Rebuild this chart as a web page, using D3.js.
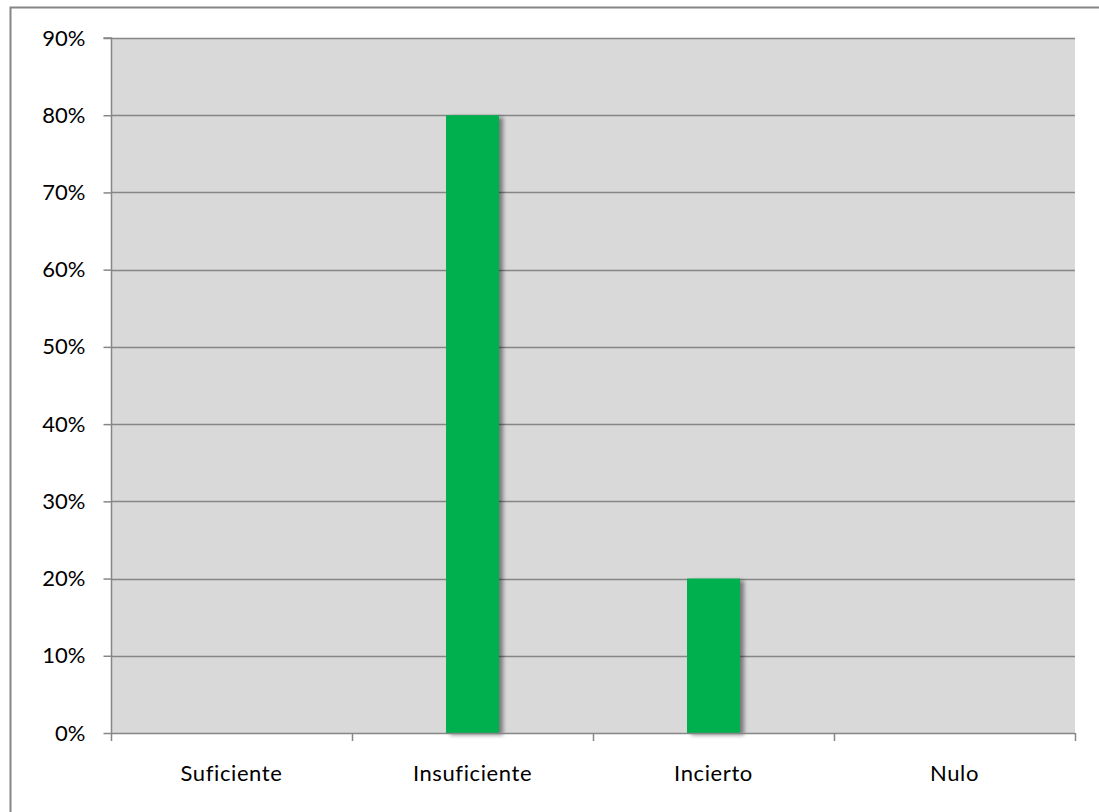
<!DOCTYPE html>
<html><head><meta charset="utf-8">
<script src="https://cdn.jsdelivr.net/npm/d3@7"></script>
<style>body{margin:0;background:#fff;} svg{display:block;} text{font-variant-ligatures:none;font-feature-settings:"liga" 0;}</style>
</head><body>
<svg id="c" width="1099" height="812"></svg>
<script>
const categories = ["Suficiente","Insuficiente","Incierto","Nulo"];
const values = [0, 0.80, 0.20, 0];
const yTicks = [0,0.1,0.2,0.3,0.4,0.5,0.6,0.7,0.8,0.9];

const svg = d3.select("#c");
const font = "Lato, 'Open Sans', sans-serif";
const fs = 22;
const m = {l:111, r:1075, t:38, b:733};

// outer chart border
svg.append("rect").attr("x",10.5).attr("y",7.5).attr("width",1100).attr("height",820)
  .attr("fill","#fff").attr("stroke","#868686").attr("stroke-width",2);

const x = d3.scaleBand().domain(categories).range([m.l,m.r]);
const y = d3.scaleLinear().domain([0,0.9]).range([m.b,m.t]);

svg.append("rect").attr("x",m.l).attr("y",m.t).attr("width",m.r-m.l).attr("height",m.b-m.t).attr("fill","#d9d9d9");

const defs = svg.append("defs");
const f = defs.append("filter").attr("id","sh").attr("x","-20%").attr("y","-5%").attr("width","150%").attr("height","115%");
f.append("feGaussianBlur").attr("in","SourceAlpha").attr("stdDeviation",2.2).attr("result","b");
f.append("feOffset").attr("in","b").attr("dx",4).attr("dy",2).attr("result","o");
f.append("feComponentTransfer").attr("in","o").attr("result","o2").append("feFuncA").attr("type","linear").attr("slope",0.45);
const mg = f.append("feMerge"); mg.append("feMergeNode").attr("in","o2"); mg.append("feMergeNode").attr("in","SourceGraphic");

// gridlines
svg.append("g").selectAll("line").data(yTicks.slice(1)).join("line")
  .attr("x1",m.l).attr("x2",m.r).attr("y1",d=>Math.round(y(d))+0.5).attr("y2",d=>Math.round(y(d))+0.5)
  .attr("stroke","#868686").attr("stroke-width",1.5);

// bars
const bw = 53;
const barData = categories.map((c,i)=>({c, v:values[i]})).filter(d=>d.v>0);
svg.append("g").selectAll("rect").data(barData).join("rect")
  .attr("x",d=>x(d.c)+x.bandwidth()/2-bw/2).attr("width",bw)
  .attr("y",d=>y(d.v)).attr("height",d=>y(0)-y(d.v))
  .attr("fill","#00b050").attr("filter","url(#sh)");

// y axis
const ya = svg.append("g").attr("transform",`translate(${m.l+0.5},0)`)
  .call(d3.axisLeft(y).tickValues(yTicks).tickFormat(d3.format(".0%")).tickSize(8).tickPadding(18));
ya.attr("font-family",font).attr("font-size",fs);
ya.select(".domain").attr("stroke","#868686").attr("stroke-width",1.5).attr("d",`M-8,${m.t}H0V${m.b}`);
ya.selectAll(".tick line").attr("stroke","#868686").attr("stroke-width",1.5);
ya.selectAll(".tick text").attr("fill","#000");

// x axis
const xa = svg.append("g").attr("transform",`translate(0,${m.b+0.5})`)
  .call(d3.axisBottom(x).tickSize(0).tickPadding(32));
xa.attr("font-family",font).attr("font-size",fs);
xa.select(".domain").attr("stroke","#868686").attr("stroke-width",1.5).attr("d",`M${m.l},0H${m.r}`);
xa.selectAll(".tick text").attr("fill","#000").attr("letter-spacing",0.6);
const bounds = categories.map(c=>x(c)).concat([m.r]);
svg.append("g").selectAll("line").data(bounds).join("line")
  .attr("x1",d=>Math.round(d)+0.5).attr("x2",d=>Math.round(d)+0.5).attr("y1",m.b).attr("y2",m.b+8)
  .attr("stroke","#868686").attr("stroke-width",1.5);
</script>
</body></html>
